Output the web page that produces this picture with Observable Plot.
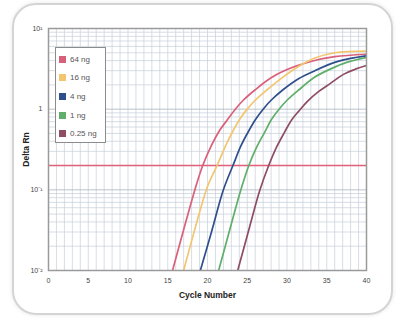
<!DOCTYPE html>
<html><head><meta charset="utf-8">
<script src="https://cdn.jsdelivr.net/npm/d3@7"></script>
<script src="https://cdn.jsdelivr.net/npm/@observablehq/plot@0.6"></script>
<style>
body{margin:0;background:#fff;width:403px;height:320px;overflow:hidden;font-family:"Liberation Sans",Arial,sans-serif;position:relative;}
#card{position:absolute;left:12px;top:3px;width:381px;height:312px;border:2px solid #d4d4d4;border-radius:24px;box-sizing:border-box;box-shadow:0 0 4px rgba(0,0,0,0.10);}
#chart{position:absolute;left:0;top:0;}
#chart svg{background:transparent;}
#chart [aria-label="x-axis label"] text, #chart [aria-label="y-axis label"] text{font-weight:bold;fill:#222;font-size:8.5px;}
#legend{position:absolute;left:55px;top:47px;width:51px;height:96px;border:1px solid #8c8c8c;background:#fff;box-sizing:border-box;padding-top:2px;}
.row{display:flex;align-items:center;height:18.6px;font-size:8px;color:#555;}
.sw{width:7px;height:7px;margin-left:3px;margin-right:4px;}
</style>
</head><body>
<div id="card"></div>
<div id="chart"></div>
<div id="legend"></div>
<script>
// Series (sample amounts) and colours
const seriesNames = ["64 ng", "16 ng", "4 ng", "1 ng", "0.25 ng"];
const seriesColors = ["#d9607a", "#f2c56e", "#2f4f8c", "#5fae6a", "#8e4d62"];

// Delta Rn vs cycle number
const red64Cycles   = [15.6, 17, 18.5, 19.4, 20.5, 21.5, 22.5, 23.5, 24.5, 26, 28, 30, 33, 36, 40];
const red64Values   = [0.01, 0.032, 0.107, 0.2, 0.355, 0.54, 0.74, 1.0, 1.29, 1.74, 2.45, 3.1, 3.9, 4.47, 4.8];
const yel16Cycles   = [17, 18.5, 20, 21.2, 22.3, 23.3, 24.2, 25, 26, 27.5, 29.5, 31.5, 33.5, 36, 40];
const yel16Values   = [0.01, 0.035, 0.11, 0.2, 0.355, 0.56, 0.79, 1.0, 1.29, 1.74, 2.5, 3.4, 4.3, 5.0, 5.25];
const blue4Cycles   = [19.1, 20.5, 22, 23.2, 24.2, 25.2, 26.1, 27, 28, 29.5, 31.5, 33.5, 36, 38, 40];
const blue4Values   = [0.01, 0.03, 0.1, 0.2, 0.35, 0.54, 0.76, 1.0, 1.29, 1.74, 2.4, 3.0, 3.8, 4.27, 4.6];
const green1Cycles  = [21.4, 22.8, 24.2, 25.2, 26.2, 27.2, 28.1, 29, 30, 31.5, 33.5, 35.5, 37.5, 40];
const green1Values  = [0.01, 0.032, 0.1, 0.2, 0.34, 0.52, 0.76, 1.0, 1.29, 1.74, 2.5, 3.16, 3.8, 4.37];
const purp025Cycles = [23.8, 25.2, 26.6, 27.7, 28.7, 29.7, 30.6, 31.5, 32.6, 34, 35.5, 37.1, 38.5, 40];
const purp025Values = [0.01, 0.032, 0.1, 0.2, 0.34, 0.52, 0.74, 0.95, 1.26, 1.66, 2.1, 2.7, 3.1, 3.47];

const threshold = 0.2;

// Axis ticks
const xTicks = [0, 5, 10, 15, 20, 25, 30, 35, 40];
const yTicks = [10, 1, 0.1, 0.01];
const yTickLabels = ["10¹", "1", "10⁻¹", "10⁻²"];

const allCycles = [red64Cycles, yel16Cycles, blue4Cycles, green1Cycles, purp025Cycles];
const allValues = [red64Values, yel16Values, blue4Values, green1Values, purp025Values];
const data = [];
seriesNames.forEach((name, s) => {
  allCycles[s].forEach((c, i) => data.push({series: name, cycle: c, value: allValues[s][i]}));
});

const minorY = [];
[0.01, 0.1, 1].forEach(dec => { for (let m = 2; m <= 9; m++) minorY.push(m * dec); });
const decadeY = [0.01, 0.1, 1, 10];

const chart = Plot.plot({
  width: 403,
  height: 320,
  marginLeft: 48,
  marginRight: 37,
  marginTop: 28,
  marginBottom: 50,
  style: {fontSize: "7px", fontFamily: "Liberation Sans, Arial, sans-serif", color: "#444", background: "transparent"},
  x: {domain: [0, 40]},
  y: {type: "log", domain: [0.01, 10]},
  color: {domain: seriesNames, range: seriesColors},
  marks: [
    Plot.gridX(d3.range(0, 41), {stroke: "#c6cfda", strokeOpacity: 1, strokeWidth: 0.7}),
    Plot.gridY(minorY, {stroke: "#c6cfda", strokeOpacity: 1, strokeWidth: 0.7}),
    Plot.gridY(decadeY, {stroke: "#aab4c0", strokeOpacity: 1, strokeWidth: 0.8}),
    Plot.ruleY([threshold], {stroke: "#e0607a", strokeOpacity: 1, strokeWidth: 1.5}),
    Plot.line(data, {x: "cycle", y: "value", z: "series", stroke: "series", curve: "catmull-rom", strokeWidth: 1.7, clip: true}),
    Plot.frame({stroke: "#9a9a9a", strokeWidth: 1.5}),
    Plot.axisX({ticks: xTicks, tickSize: 0, tickPadding: 8, label: "Cycle Number", labelAnchor: "center", labelOffset: 27, labelArrow: "none"}),
    Plot.axisY({ticks: yTicks, tickSize: 0, tickPadding: 6,
      tickFormat: d => yTickLabels[yTicks.findIndex(t => Math.abs(t - d) < 1e-9)],
      label: "Delta Rn", labelAnchor: "center", labelOffset: 26, labelArrow: "none"})
  ]
});
document.getElementById("chart").appendChild(chart);

const legend = document.getElementById("legend");
seriesNames.forEach((name, i) => {
  const row = document.createElement("div");
  row.className = "row";
  const sw = document.createElement("span");
  sw.className = "sw";
  sw.style.background = seriesColors[i];
  const lab = document.createElement("span");
  lab.textContent = name;
  row.appendChild(sw);
  row.appendChild(lab);
  legend.appendChild(row);
});
</script>
</body></html>
